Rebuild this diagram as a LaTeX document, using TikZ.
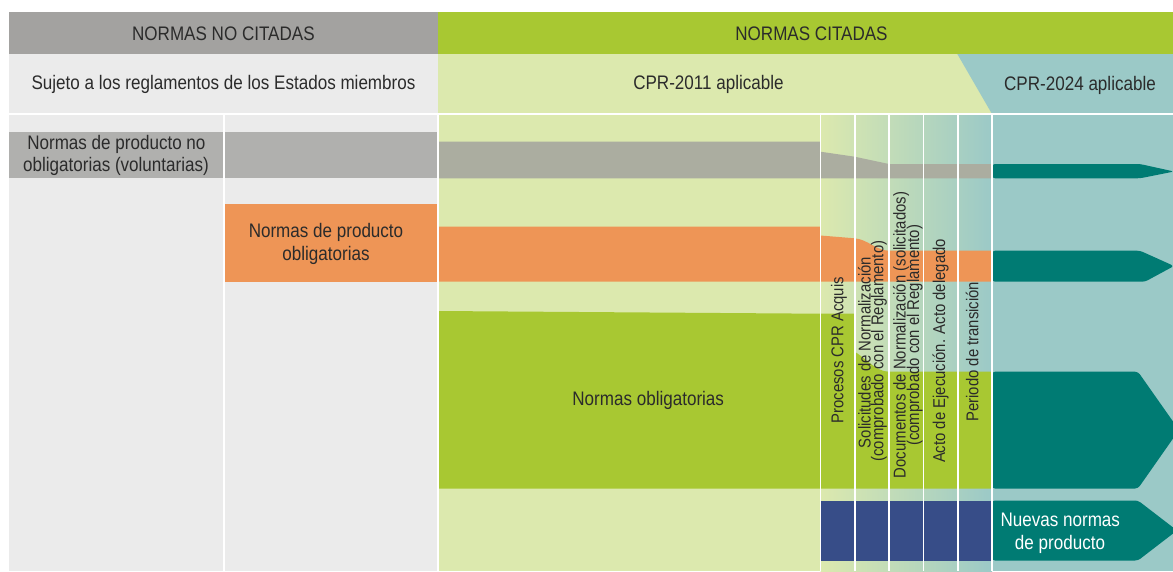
\documentclass[tikz,border=0pt]{standalone}
\usepackage{fontspec}
\setmainfont{Liberation Sans}[FakeStretch=0.87]
\definecolor{hdrgray}{HTML}{A3A2A0}
\definecolor{hdrgreen}{HTML}{A8C832}
\definecolor{lgray}{HTML}{EBEBEB}
\definecolor{lgreen}{HTML}{DCE9AE}
\definecolor{lteal}{HTML}{9BC9C7}
\definecolor{bandgrayL}{HTML}{B0B0AE}
\definecolor{bandgray}{HTML}{ABADA0}
\definecolor{orangeA}{HTML}{EE9556}
\definecolor{greenA}{HTML}{A8C832}
\definecolor{tealdk}{HTML}{007B73}
\definecolor{navyA}{HTML}{374D88}
\definecolor{txtc}{HTML}{2B2B2B}
\begin{document}
\begin{tikzpicture}[x=1pt,y=-1pt,
  txt/.style={inner sep=0pt, anchor=base, text=txtc, font=\fontsize{19.6}{22}\selectfont},
  vtxt/.style={inner sep=0pt, anchor=base, rotate=90, text=txtc, font=\fontsize{17.1}{13}\selectfont},
  wline/.style={draw=white, line width=1.6pt},
  tealarrow/.style={fill=tealdk, rounded corners=3pt}]
\useasboundingbox (0,0) rectangle (1173,571);
\begin{scope}
\clip (0,0) rectangle (1173,571);
\fill[white] (0,0) rectangle (1173,571);
% header row
\fill[hdrgray] (9,12) rectangle (438,54);
\fill[hdrgreen] (438,12) rectangle (1173,54);
% second row
\fill[lgray] (9,54) rectangle (438,114);
\fill[lgreen] (438,54) rectangle (1173,114);
\fill[lteal] (957.3,54) -- (1173,54) -- (1173,114) -- (992,114) -- cycle;
% lower area
\fill[lgray] (9,114) rectangle (438,571);
\fill[lgreen] (438,114) rectangle (820.5,571);
\fill[left color=lgreen, right color=lteal] (820.5,114) rectangle (992,571);
\fill[lteal] (992,114) rectangle (1173,571);
% gray band
\fill[bandgrayL] (9,131.7) rectangle (438,178.3);
\fill[bandgray] (438,141.7) -- (820.5,141.7) -- (820.5,151.7) -- (854.7,156.7) -- (889,164) -- (992,164) -- (992,178.3) -- (438,178.3) -- cycle;
\fill[tealarrow] (992,164) -- (1140,164) -- (1174,171.5) -- (1140,178.3) -- (992,178.3) -- cycle;
% orange band
\fill[orangeA] (224,204) rectangle (438,281.7);
\fill[orangeA] (438,226.7) -- (820.5,226.7) -- (820.5,235.5) -- (854.7,238.3) .. controls (868,239.5) and (876,250.5) .. (889,250.7) -- (992,250.7) -- (992,281.7) -- (438,281.7) -- cycle;
\fill[tealarrow] (992,250.7) -- (1140,250.7) -- (1174,266) -- (1145,281.7) -- (992,281.7) -- cycle;
% green band
\fill[greenA] (438,311) -- (820.5,313.7) -- (854.7,313.7) -- (854.7,351.7) .. controls (868,360) and (876,371.5) .. (889,371.7) -- (992,371.7) -- (992,488.5) -- (438,488.5) -- cycle;
\fill[tealarrow] (992,371.7) -- (1138,371.7) -- (1179,430) -- (1138,488.5) -- (992,488.5) -- cycle;
% new product band
\fill[navyA] (820.5,500.5) rectangle (992,560.5);
\fill[tealarrow] (992,500.5) -- (1138,500.5) -- (1177,530.5) -- (1138,560.5) -- (992,560.5) -- cycle;
% white separators
\draw[wline] (9,114) -- (1173,114);
\foreach \xx in {224,438,820.5,854.7,889,923.3,957.7,992}
  \draw[wline] (\xx,114) -- (\xx,571);
\end{scope}
% texts
\node[txt] (hNo) at (223.4,40.7) {NORMAS NO CITADAS};
\node[txt] (hSi) at (811.5,40.7) {NORMAS CITADAS};
\node[txt] (suj) at (223.5,89.7) {Sujeto a los reglamentos de los Estados miembros};
\node[txt] (c11) at (708.5,89.7) {CPR-2011 aplicable};
\node[txt] (c24) at (1080,90) {CPR-2024 aplicable};
\node[txt] (vol1) at (116.4,149.2) {Normas de producto no};
\node[txt] (vol2) at (116,171.7) {obligatorias (voluntarias)};
\node[txt] (obl1) at (326,237.3) {Normas de producto};
\node[txt] (obl2) at (326,260) {obligatorias};
\node[txt] (nob) at (648.2,405.7) {Normas obligatorias};
\node[txt, text=white] (nue1) at (1060.3,526) {Nuevas normas};
\node[txt, text=white] (nue2) at (1060,549.3) {de producto};
% column texts
\node[vtxt] (col1) at (843.3,350.3) {Procesos CPR Acquis};
\node[vtxt] (col2a) at (870.5,352.5) {Solicitudes de Normalización};
\node[vtxt] (col2b) at (883.3,351) {(comprobado con el Reglamento)};
\node[vtxt] (col3a) at (905.7,335) {Documentos de Normalización (solicitados)};
\node[vtxt] (col3b) at (919,335.3) {(comprobado con el Reglamento)};
\node[vtxt] (col4) at (945,351) {Acto de Ejecución. Acto delegado};
\node[vtxt] (col5) at (978.3,351.7) {Periodo de transición};
\end{tikzpicture}
\end{document}
